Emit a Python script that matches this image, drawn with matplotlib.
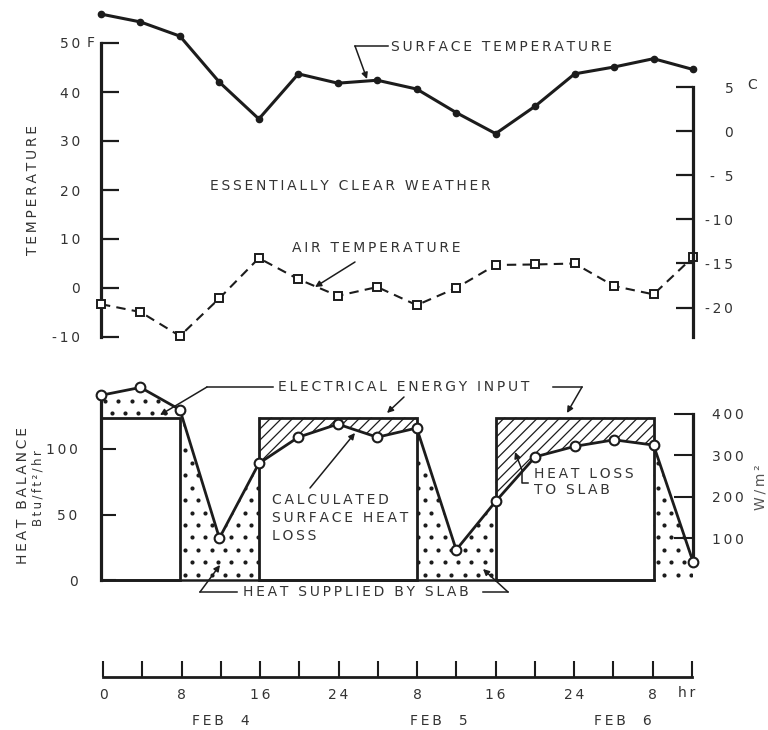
import numpy as np
import matplotlib
matplotlib.use("Agg")
import matplotlib.pyplot as plt
from matplotlib.patches import Rectangle
from matplotlib.transforms import blended_transform_factory

# ---------------- data ----------------
hours = np.arange(0, 61, 4)
surface_F = [55.9, 54.3, 51.4, 42.0, 34.5, 43.7, 41.8, 42.4,
             40.6, 35.8, 31.5, 37.1, 43.7, 45.1, 46.8, 44.6]
air_F = [-3.3, -4.9, -9.8, -2.1, 6.1, 1.8, -1.6, 0.2,
         -3.5, 0.0, 4.7, 4.8, 5.0, 0.4, -1.3, 6.3]
heat_loss = [141, 147, 130, 32, 89, 109, 119, 109,
             116, 23, 60, 94, 102, 107, 103, 14]
elec_on_start = [0, 16, 40]
elec_on_end = [8, 32, 56]
elec_level = 124

temp_F_ticks = [50, 40, 30, 20, 10, 0, -10]
temp_F_labels = ["50", "40", "30", "20", "10", "0", "-10"]
temp_C_ticks = [5, 0, -5, -10, -15, -20]
temp_C_labels = ["5", "0", "- 5", "-10", "-15", "-20"]
heat_ticks = [0, 50, 100]
heat_labels = ["0", "50", "100"]
wm2_ticks = [100, 200, 300, 400]
wm2_labels = ["100", "200", "300", "400"]
time_ticks = np.arange(0, 61, 4)
time_label_hours = [0, 8, 16, 24, 32, 40, 48, 56]
time_labels = ["0", "8", "16", "24", "8", "16", "24", "8"]
day_labels = ["FEB  4", "FEB  5", "FEB  6"]
day_label_hours = [12, 34.2, 53]

BTU_TO_WM2 = 3.1546

INK = "#1c1c1c"
TXT = "#333333"

plt.rcParams["font.family"] = ["DejaVu Sans"]
plt.rcParams["hatch.color"] = INK
plt.rcParams["hatch.linewidth"] = 0.9

W, H = 768, 730
fig = plt.figure(figsize=(W / 100, H / 100), dpi=100)


def rect(x0, y0, x1, y1):
    return [x0 / W, 1 - y1 / H, (x1 - x0) / W, (y1 - y0) / H]


def P(x, y):
    return (x / W, 1 - y / H)


def sp(s):
    return "\u2009".join(s)


def ftext(x, y, s, size=10, **kw):
    kw.setdefault("color", TXT)
    kw.setdefault("va", "center")
    fig.text(*P(x, y), s, fontsize=size, **kw)


def arrow(x0, y0, x1, y1):
    fig.add_artist(matplotlib.patches.FancyArrowPatch(
        P(x0, y0), P(x1, y1), transform=fig.transFigure,
        arrowstyle="-|>", mutation_scale=9, lw=1.1, color=INK,
        shrinkA=0, shrinkB=0))


def seg(xs, ys):
    fig.add_artist(matplotlib.lines.Line2D(
        [x / W for x in xs], [1 - y / H for y in ys],
        transform=fig.transFigure, lw=1.1, color=INK))


# ---------------- top: temperature ----------------
ax1 = fig.add_axes(rect(101, 43, 693, 337))
ax1.set_xlim(0, 60)
ax1.set_ylim(-10, 50)
for s in ["top", "bottom", "right"]:
    ax1.spines[s].set_visible(False)
ax1.spines["left"].set_linewidth(2.3)
ax1.spines["left"].set_color(INK)
ax1.set_xticks([])
ax1.set_yticks(temp_F_ticks, [sp(t) for t in temp_F_labels])
ax1.tick_params(axis="y", direction="in", length=13, width=1.6, pad=15,
                labelsize=10, color=INK, labelcolor=TXT)
ax1.patch.set_alpha(0)

ax1c = ax1.twinx()
ax1c.set_ylim((-10 - 32) / 1.8, (50 - 32) / 1.8)
for s in ["top", "bottom", "left"]:
    ax1c.spines[s].set_visible(False)
ax1c.spines["right"].set_bounds((-10 - 32) / 1.8, 5)
ax1c.spines["right"].set_linewidth(2.3)
ax1c.spines["right"].set_color(INK)
ax1c.set_yticks(temp_C_ticks, [sp(t) for t in temp_C_labels])
ax1c.tick_params(axis="y", direction="in", length=12.5, width=1.6, pad=29,
                 labelsize=10, color=INK, labelcolor=TXT)
for t in ax1c.get_yticklabels():
    t.set_ha("right")

ax1.plot(hours, surface_F, "-", color=INK, lw=2.2, marker="o", ms=4.5,
         clip_on=False, zorder=5)
ax1.plot(hours, air_F, color=INK, lw=1.5, ls=(0, (4.5, 3)), marker="s",
         ms=5.5, mfc="white", mec=INK, mew=1.4, clip_on=False, zorder=5)

ftext(87, 43, "F", ha="left")
ftext(747, 85, "C", ha="left")
ftext(33, 190, sp("TEMPERATURE"), rotation=90, ha="center")
ftext(210, 186, sp("ESSENTIALLY CLEAR WEATHER"), ha="left")
ftext(391, 47, sp("SURFACE TEMPERATURE"), ha="left")
seg([388, 355], [46, 46])
arrow(355, 46, 367, 79)
ftext(292, 248, sp("AIR TEMPERATURE"), ha="left")
arrow(355, 262, 315, 287)

# ---------------- bottom: heat balance ----------------
ytop = 580 - 150 * 1.31
ax2 = fig.add_axes(rect(101, ytop, 693, 580))
ax2.set_xlim(0, 60)
ax2.set_ylim(0, 150)
ax2.patch.set_alpha(0)
for s in ["top", "right"]:
    ax2.spines[s].set_visible(False)
ax2.spines["left"].set_bounds(0, heat_loss[0])
ax2.spines["left"].set_linewidth(2.3)
ax2.spines["bottom"].set_bounds(0, elec_on_end[-1])
ax2.spines["bottom"].set_linewidth(1.8)
for s in ["left", "bottom"]:
    ax2.spines[s].set_color(INK)
ax2.set_xticks([])
ax2.set_yticks(heat_ticks, [sp(t) for t in heat_labels])
ax2.tick_params(axis="y", direction="in", length=11, width=1.5, pad=17,
                labelsize=10, color=INK, labelcolor=TXT)

ax2w = ax2.twinx()
ax2w.set_ylim(0, 150 * BTU_TO_WM2)
for s in ["top", "bottom", "left"]:
    ax2w.spines[s].set_visible(False)
ax2w.spines["right"].set_bounds(heat_loss[-1] * BTU_TO_WM2 + 15, 400)
ax2w.spines["right"].set_linewidth(2.3)
ax2w.spines["right"].set_color(INK)
ax2w.set_yticks(wm2_ticks, [sp(t) for t in wm2_labels])
ax2w.tick_params(axis="y", direction="in", length=14, width=1.5, pad=14,
                 labelsize=10, color=INK, labelcolor=TXT)

for s, e in zip(elec_on_start, elec_on_end):
    ax2.add_patch(Rectangle((s, 0), e - s, elec_level, fill=False, lw=2.0,
                            ec=INK, clip_on=False, zorder=3))

# stipple texture: staggered grid of dots (decoration), clipped to regions
dx, dy = 1.35, 9.5
gx, gy = [], []
for r, yv in enumerate(np.arange(4, 150, dy)):
    off = (r % 2) * dx / 2 + 0.4
    xs = np.arange(off, 60, dx)
    gx.extend(xs)
    gy.extend([yv] * len(xs))
gx, gy = np.array(gx), np.array(gy)

loss = np.array(heat_loss, dtype=float)
bounds = sorted(set([0] + elec_on_start + elec_on_end + [60]))
for a, b in zip(bounds[:-1], bounds[1:]):
    on = any(s <= a and b <= e for s, e in zip(elec_on_start, elec_on_end))
    level = elec_level if on else 0
    m = (hours >= a) & (hours <= b)
    h = hours[m]
    L = loss[m]
    lev = np.full_like(L, level)
    pc = ax2.fill_between(h, lev, L, where=L >= lev, interpolate=True,
                          facecolor="none", edgecolor="none", lw=0,
                          zorder=2)
    for path in pc.get_paths():
        if len(path.vertices) < 3:
            continue
        sc = ax2.scatter(gx, gy, s=9, color=INK, lw=0, zorder=2)
        sc.set_clip_path(path, ax2.transData)
    if on:
        ax2.fill_between(h, lev, L, where=L <= lev, interpolate=True,
                         facecolor="none", edgecolor=INK, lw=0,
                         hatch="///", zorder=2)

ax2.plot(hours, heat_loss, "-", color=INK, lw=2.0, marker="o", ms=7,
         mfc="white", mec=INK, mew=1.5, clip_on=False, zorder=6)

ftext(23, 495, sp("HEAT BALANCE"), rotation=90, ha="center")
ftext(38, 488, sp("Btu/ft²/hr"), size=8.5, rotation=90, ha="center")
ftext(760, 487, sp("W/m²"), rotation=90, ha="center", color="#555555")

ftext(278, 387, sp("ELECTRICAL ENERGY INPUT"), ha="left")
seg([273, 207], [387, 387])
arrow(207, 387, 160, 415)
seg([553, 582], [387, 387])
arrow(582, 387, 567, 413)
arrow(404, 397, 387, 413)

for i, line in enumerate(["CALCULATED", "SURFACE HEAT", "LOSS"]):
    ftext(272, 500 + 18 * i, sp(line), ha="left")
arrow(310, 488, 355, 433)

ftext(534, 474, sp("HEAT LOSS"), ha="left")
ftext(534, 490, sp("TO SLAB"), ha="left")
seg([528, 522, 522], [483, 483, 470])
arrow(522, 470, 515, 452)

ftext(243, 592, sp("HEAT SUPPLIED BY SLAB"), ha="left")
seg([237, 200], [592, 592])
arrow(200, 592, 220, 565)
seg([483, 508], [592, 592])
arrow(508, 592, 483, 569)

# ---------------- time axis ----------------
ax3 = fig.add_axes(rect(103, 657, 692, 677))
ax3.set_xlim(0, 60)
ax3.set_ylim(0, 1)
ax3.patch.set_alpha(0)
for s in ["top", "left", "right"]:
    ax3.spines[s].set_visible(False)
ax3.spines["bottom"].set_linewidth(2.0)
ax3.spines["bottom"].set_color(INK)
lbl_map = dict(zip(time_label_hours, time_labels))
ax3.set_xticks(time_ticks, [sp(lbl_map.get(int(t), "")) for t in time_ticks])
ax3.tick_params(axis="x", direction="in", length=11.5, width=1.5, pad=8,
                labelsize=10, color=INK, labelcolor=TXT)
ax3.set_yticks([])
ax3.text(58.6, -0.82, "h\u2009r", transform=ax3.transData, fontsize=10,
         color=TXT, ha="left", va="center")
tr = blended_transform_factory(ax3.transData, fig.transFigure)
for hx, lab in zip(day_label_hours, day_labels):
    ax3.text(hx, 1 - 721 / H, sp(lab), transform=tr, fontsize=10,
             color=TXT, ha="center", va="center")

fig.savefig("out.png", dpi=100, facecolor="white")
